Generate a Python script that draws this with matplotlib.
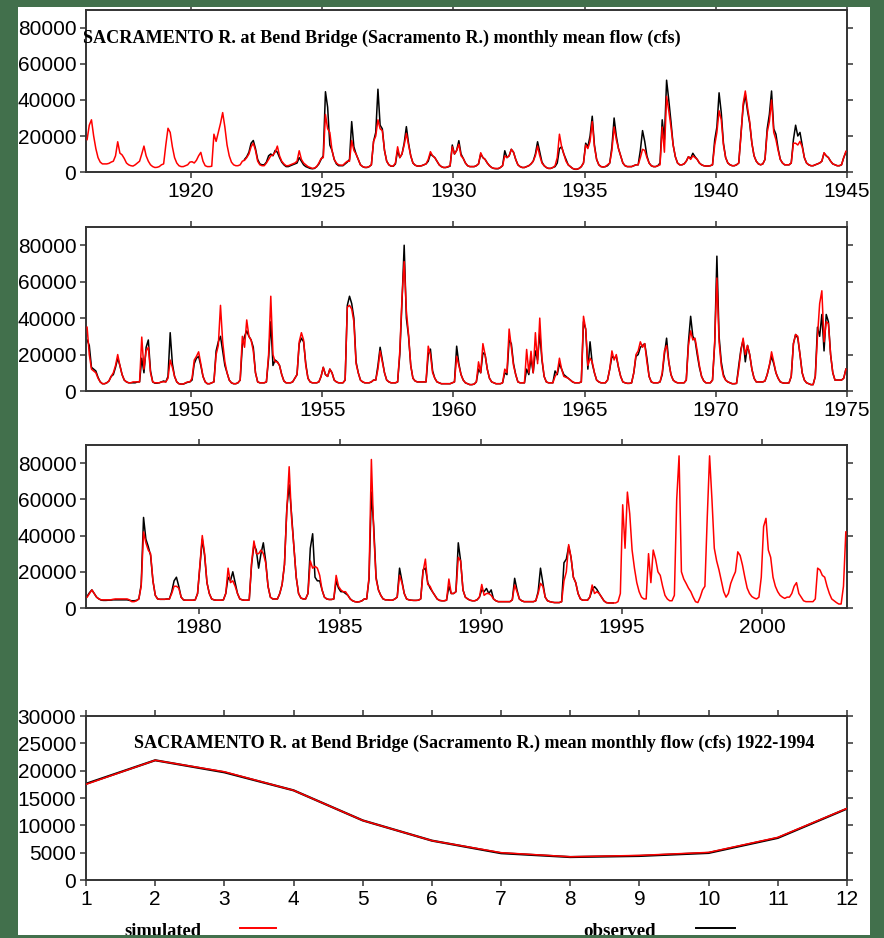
import numpy as np
import matplotlib
matplotlib.use("Agg")
import matplotlib.pyplot as plt
from matplotlib.patches import Rectangle
from matplotlib.lines import Line2D
from matplotlib.ticker import FuncFormatter, FixedLocator

# ---------------- data: monthly mean flow, thousand cfs (Jan..Dec per row) ----------------
sim_1916_1944 = [
    18, 26, 29, 20, 13, 8, 5.5, 4.5, 4.5, 4.5, 4.8, 5.5,
    6, 9, 16.8, 10.5, 9.5, 7.5, 5, 4, 3.5, 3.3, 4, 5,
    6, 10, 14.4, 9, 6, 4, 3, 2.5, 2.6, 3, 4, 4.5,
    15, 24.3, 22, 14, 8, 5, 3.5, 3, 3, 3.5, 4, 5.5,
    5.7, 5, 6.5, 9, 10.9, 6, 3.5, 3, 3, 3.2, 21, 17,
    22, 27, 33, 25, 15, 9, 5.5, 4, 3.5, 3.5, 4, 6,
    6.5, 8, 10, 14, 16, 12, 6, 4, 3.5, 3.5, 5, 7,
    9, 9.5, 11, 14.4, 9, 6, 4.5, 3.5, 3.5, 4, 4.5, 5,
    6, 11.8, 7, 5, 4, 3, 2.5, 2, 2.2, 3, 5, 7.5,
    8, 32, 24, 22, 12, 7, 5, 4, 3.8, 3.8, 5, 6,
    6, 17.5, 12, 10, 7, 4, 3, 2.6, 2.6, 3, 4, 17,
    20, 29, 24, 23, 12, 6, 4, 3.3, 3.3, 5, 14, 8,
    10, 15, 21.5, 15, 9, 5, 3.8, 3.3, 3.3, 3.5, 4, 4.5,
    7, 11.3, 9, 8, 6, 4, 3, 2.5, 2.5, 3, 3.5, 14,
    10, 12, 15.4, 9, 7.6, 5, 3.5, 3, 3, 3, 3.5, 4.5,
    10.7, 8, 7, 5, 3.5, 2.5, 2, 2, 2, 2.5, 3.5, 9,
    8, 9, 12.6, 11, 7, 4, 3, 2.5, 2.5, 3, 3.5, 4.5,
    6, 9, 14.4, 9, 5, 3.5, 2.5, 2, 2, 2.5, 3.5, 8,
    21, 14, 10, 6, 4, 3, 2, 1.6, 1.6, 2, 3, 5,
    15, 13, 17, 28, 14, 7, 4, 3, 2.8, 3, 4, 5,
    12, 25, 18, 13, 9, 5, 3.5, 3, 3, 3, 3.5, 4,
    4, 8, 12.6, 12, 8, 5, 3.5, 3, 3, 3.5, 4, 25,
    11, 42, 34, 25, 15, 8.5, 5, 4, 4, 4.5, 6, 8.5,
    7, 9, 8, 7, 5, 4, 3.5, 3.3, 3.3, 3.5, 4, 15,
    22, 34, 29, 15, 8, 5, 4, 3.5, 3.5, 4, 5, 20,
    38, 45, 36, 28, 16, 9, 6, 4.5, 4, 4.5, 7, 22,
    28, 40, 22, 18, 12, 7, 5, 4, 4, 4, 5, 16,
    16, 15, 17, 14, 8, 5, 4, 3.5, 3.5, 4, 4.5, 5,
    6, 10.7, 9, 8, 6, 4.5, 4, 3.5, 3.5, 4, 8, 11.5,
]
obs_1922_1944 = [
    7, 8.5, 11, 16, 17.5, 13, 7, 4.5, 4, 4, 5.5, 9,
    10, 9, 12, 11, 8, 5.5, 4, 3, 3, 3.5, 4, 4.5,
    5, 8, 6, 4, 3, 2.5, 2, 1.8, 2, 3, 4.5, 7,
    9, 44.6, 36, 15, 12, 7, 4.5, 3.5, 3.5, 3.5, 4.5, 5.5,
    7, 28, 14, 10, 7, 4, 3, 2.5, 2.5, 3, 4, 17,
    22, 46, 26, 24, 12, 6, 4, 3.2, 3.2, 4.5, 12, 8,
    10, 16, 25.2, 16, 9, 5, 3.8, 3.3, 3.3, 3.5, 4, 4.5,
    6, 10, 9, 8, 6, 4, 3, 2.5, 2.5, 2.8, 3.3, 15,
    10, 12, 17.4, 10, 7.6, 5, 3.5, 3, 3, 3, 3.5, 4.5,
    10, 8, 7, 5, 3.5, 2.5, 2, 1.8, 1.8, 2.5, 3.5, 11.8,
    8, 9, 12.6, 11, 7, 4, 3, 2.5, 2.5, 3, 3.5, 4.5,
    6, 10, 16.8, 11, 5.5, 3.5, 2.5, 2, 2, 2.5, 3, 5,
    13, 14, 10, 7, 4, 3, 2, 1.5, 1.5, 2, 3, 5,
    16, 14, 20, 31, 15, 7, 4, 3, 2.8, 3, 3.5, 5,
    14, 30, 20, 13, 9, 5, 3.5, 3, 3, 3, 3.5, 4,
    4, 12, 23, 17, 9, 5, 3.5, 3, 3, 3.5, 5, 29,
    18, 51, 40, 28, 15, 8.5, 5, 4, 4, 4.5, 6, 8.5,
    7.5, 10.4, 8.5, 7, 5, 4, 3.5, 3.3, 3.3, 3.5, 4, 17.8,
    25, 44, 33, 16, 8, 5, 4, 3.5, 3.5, 4, 5, 21,
    36, 43, 34, 27, 16, 9, 6, 4.5, 4, 4.5, 7, 24,
    32, 45, 24, 21, 13, 7, 5, 4, 4, 4, 5, 18,
    26, 20, 22, 15, 8, 5, 4, 3.5, 3.5, 4, 4.5, 5,
    6, 10.5, 9, 8, 6, 4.5, 4, 3.5, 3.5, 4, 8, 11,
]
sim_1946_1974 = [
    35, 20, 12, 11, 10, 7, 5, 4, 4, 4.5, 5.5, 8,
    10, 14, 20, 14, 9, 6, 5, 4.5, 4.5, 5, 5, 5,
    5, 29.6, 12, 22, 24, 10, 5, 4.5, 4.5, 4.5, 5, 5,
    5, 7, 17, 13, 8, 5, 4, 3.8, 3.8, 4.5, 5, 5,
    7, 17, 19, 21.5, 15, 8, 5, 4, 4, 4.5, 5, 20,
    25, 47, 27, 16, 10, 6, 4.5, 4, 4, 4.5, 6, 30,
    24, 39, 30, 28, 22, 10, 5, 4.5, 4.5, 4.5, 5, 20,
    52, 20, 16, 16, 14, 9, 5.5, 4.5, 4.5, 4.5, 5, 7,
    9, 27, 32, 28, 14, 7, 5, 4.5, 4.5, 4.5, 5, 8,
    13, 9, 8, 12, 10, 6, 5, 4.5, 4.5, 4.5, 6, 46,
    47, 45, 38, 15, 10, 6, 5, 4.5, 4.5, 4.5, 5, 6,
    6, 12, 22, 16, 10, 6, 5, 4.5, 4.5, 4.5, 5, 22,
    51, 71, 44, 31, 14, 7, 5.5, 5, 5, 5, 5, 5,
    24.6, 20, 10, 7, 5, 4.5, 4, 4, 4, 4, 4, 4.5,
    5, 19, 14, 9, 6, 4.5, 4, 3.5, 3.5, 3.8, 5, 16,
    10, 26, 20, 12, 7, 5, 4.5, 4, 4, 4, 4.5, 12,
    10, 34, 24, 14, 9, 5, 4.5, 4.5, 4.5, 22.8, 10, 21.8,
    10, 32, 15, 40, 18, 8, 5, 4.5, 4.5, 4.5, 8, 10,
    18, 12, 8, 7.5, 7, 6, 5, 4.5, 4.5, 4.5, 5, 41,
    34, 14, 18, 16, 10, 6, 5, 4.5, 4.5, 4.5, 6, 12,
    22, 17, 20, 13, 8, 5, 4.5, 4.2, 4.2, 4.5, 10, 20,
    22, 27, 24, 26, 16, 8, 5, 4.5, 4.5, 4.5, 5, 10,
    22, 25, 16, 9, 6, 5, 4.5, 4.5, 4.5, 4.5, 6, 25,
    33, 28, 29, 22, 14, 8, 5.5, 4.5, 4.5, 4.5, 6, 27,
    62, 27, 14, 8, 6, 5, 4.5, 4, 4, 4.2, 12, 22,
    29, 20, 25, 20, 12, 7, 5, 5, 5, 5, 5.5, 9,
    14, 21.5, 16, 10, 7, 5, 4.5, 4.3, 4.3, 4.5, 8, 26,
    31, 30, 20, 10, 6, 4.5, 4, 3.5, 3.5, 8, 30, 48,
    55, 27, 38, 37, 20, 10, 6, 6, 6, 6, 7, 12,
]
obs_1946_1974 = [
    28, 25, 13, 12, 11, 7.5, 5, 4, 4, 4.5, 5.5, 8,
    9, 13, 18, 14, 9, 6, 5, 4.5, 4.5, 4.5, 4.5, 5,
    5, 18, 10, 24, 28, 11, 5, 4.3, 4.3, 4.5, 5, 5.5,
    5, 8, 32, 15, 8, 5, 4, 3.8, 3.8, 4.3, 4.8, 5,
    6, 15, 18, 19, 14, 8, 5, 4, 4, 4.5, 5, 22,
    27, 30, 22, 14, 10, 6, 4.5, 4, 4, 4.5, 6, 25,
    30, 33, 30, 28, 24, 10, 5, 4.5, 4.5, 4.5, 5, 18,
    38, 14, 17, 16, 14, 9, 5.5, 4.5, 4.5, 4.5, 5, 7,
    9, 26, 29, 27, 15, 7, 5, 4.5, 4.5, 4.5, 5, 8,
    13, 9, 8, 12, 10, 6, 5, 4.5, 4.5, 4.5, 6, 47,
    52, 48, 40, 16, 10, 6, 5, 4.5, 4.5, 4.5, 5, 6,
    6, 14, 24, 17, 10, 6, 5, 4.5, 4.5, 4.5, 5, 20,
    49, 80, 40, 30, 14, 7, 5.5, 5, 5, 5, 5, 5,
    20, 23, 11, 7, 5, 4.5, 4, 4, 4, 4, 4, 4.5,
    5, 24.6, 15, 9, 6, 4.5, 4, 3.5, 3.5, 3.8, 5, 12,
    10, 21, 20, 12, 7, 5, 4.5, 4, 4, 4, 4.5, 10,
    9, 28, 26, 15, 9, 5, 4.5, 4.5, 4.5, 12, 9, 18,
    10, 22, 17, 32, 17, 8, 5, 4.5, 4.5, 4.5, 11, 9,
    15, 12, 9, 8, 7, 6, 5, 4.5, 4.5, 4.5, 5, 38,
    34, 12, 27, 15, 10, 6, 5, 4.5, 4.5, 4.5, 6, 12,
    19, 18, 19, 13, 8, 5, 4.5, 4.2, 4.2, 4.5, 10, 19,
    20, 24, 25, 26, 18, 8, 5, 4.5, 4.5, 4.5, 5, 9,
    20, 29, 16, 9, 6, 5, 4.5, 4.5, 4.5, 4.5, 6, 27,
    41, 30, 28, 20, 13, 8, 5.5, 4.5, 4.5, 4.5, 6, 26,
    74, 30, 16, 9, 6, 5, 4.5, 4, 4, 4.2, 14, 23,
    28, 16, 25, 20, 12, 7, 5, 5, 5, 5, 5.5, 9,
    14, 19, 15, 10, 7, 5, 4.5, 4.3, 4.3, 4.5, 8, 26,
    31, 29, 20, 10, 6, 4.5, 4, 3.5, 3.5, 8, 35, 30,
    42, 22, 42, 38, 20, 10, 6, 6, 6, 6, 7, 12,
]
sim_1976_2002 = [
    6, 8, 10, 8, 6, 5, 4.5, 4.5, 4.5, 4.5, 4.5, 4.8,
    5, 5, 5, 5, 5, 5, 4.5, 3.5, 3.5, 4, 5, 12,
    42, 36, 32, 30, 15, 7, 5, 4.8, 4.8, 4.8, 5, 5,
    8, 12, 12, 11, 6, 4.5, 4.3, 4.3, 4.3, 4.3, 4.5, 8,
    24, 40, 30, 14, 8, 5, 4.5, 4.3, 4.3, 4.3, 4.5, 8,
    22, 14, 15, 12, 8, 5, 4.5, 4.3, 4.3, 4.5, 25, 37,
    30, 30, 32, 30, 25, 12, 6, 5, 5, 5, 8, 13,
    24, 54, 78, 50, 34, 17, 8, 5.5, 5, 5, 8, 26,
    22, 23, 22, 18, 10, 6, 5, 4.7, 4.7, 5, 18, 12,
    10, 9, 9, 7, 5, 4, 3.5, 3.3, 3.5, 4, 5, 5,
    17, 82, 42, 16, 10, 7, 5, 4.5, 4.5, 4.3, 4.3, 5,
    6, 18, 14, 8, 5, 4.5, 4.3, 4.2, 4.2, 4.3, 5, 20,
    27, 13, 12, 9, 7, 5, 4.2, 4, 4, 4.3, 16, 8,
    8, 9, 28, 26, 10, 6, 5, 4.3, 4, 4, 4.5, 6,
    13, 7, 8, 8, 7, 5, 4, 3.5, 3.5, 3.5, 3.5, 3.5,
    3.5, 4.5, 12.7, 9, 5, 4, 3.5, 3.5, 3.5, 3.5, 3.5, 4,
    8, 13.6, 12, 6, 4, 3.5, 3.2, 3, 3, 3, 3.5, 15,
    20, 35, 28, 17, 14, 8, 5, 4.3, 4.3, 4.3, 6, 12.7,
    8, 9, 8, 6, 4, 3, 2.8, 2.8, 2.8, 2.8, 3.5, 8,
    57, 33, 64, 52, 32, 22, 14, 9, 6, 5, 5, 30,
    14, 32, 27, 20, 18, 12, 7, 5, 4, 4, 7, 60,
    84, 20, 16, 13.6, 11, 9, 6, 3.5, 3, 6, 10, 12,
    50, 84, 60, 33, 26, 21, 15, 9, 6, 8, 13.6, 17,
    20, 31, 29, 23.7, 17, 11, 8, 6.3, 5.5, 5, 6, 17,
    45, 49.5, 32, 28, 17, 12, 9, 7, 6, 5.3, 6, 6,
    8, 12, 14, 8, 6, 4, 3.5, 3.5, 3.5, 3.5, 5, 22,
    21, 18, 17, 12, 8, 5, 4, 3, 2.2, 2.2, 12, 42,
]
obs_1976_1994 = [
    6.5, 8.5, 10, 8, 6, 5, 4.3, 4.2, 4.2, 4.3, 4.3, 4.5,
    4.5, 4.5, 4.5, 4.5, 4.5, 4.5, 4.2, 4, 4, 4.2, 5, 13,
    50, 38, 34, 29, 15, 7, 5, 4.8, 4.8, 4.8, 5, 5,
    9, 15, 17, 12, 6, 4.5, 4.3, 4.3, 4.3, 4.3, 4.5, 8,
    23, 38, 29, 14, 8, 5, 4.5, 4.3, 4.3, 4.3, 4.5, 8,
    17, 15, 20, 14, 8, 5, 4.5, 4.3, 4.3, 4.5, 24, 35,
    32, 22, 30, 36, 26, 12, 6, 5, 5, 5, 8, 13,
    24, 55, 68, 52, 34, 17, 8, 5.5, 5, 5, 8, 33,
    41, 17, 15, 15, 10, 6, 5, 4.7, 4.7, 5, 15, 11,
    9, 9, 8, 7, 5, 4, 3.5, 3.3, 3.5, 4, 5, 5,
    16, 64, 45, 17, 10, 7, 5, 4.5, 4.5, 4.3, 4.3, 5,
    6, 22, 15, 8, 5, 4.5, 4.3, 4.2, 4.2, 4.3, 5, 21,
    22, 14, 11, 9, 7, 5, 4.2, 4, 4, 4.3, 12, 8,
    8, 9, 36, 26, 10, 6, 5, 4.3, 4, 4, 4.5, 6,
    10, 9, 10.8, 8, 10, 5, 4, 3.5, 3.5, 3.5, 3.5, 3.5,
    3.5, 4.5, 16.4, 10, 5, 4, 3.5, 3.5, 3.5, 3.5, 3.5, 4,
    9, 22, 14, 6, 4, 3.5, 3.2, 3, 3, 3, 3.5, 25,
    27, 34, 28, 17, 14, 8, 5, 4.3, 4.3, 4.3, 6, 10,
    11.8, 10.3, 8, 6, 4, 3, 2.8, 2.8, 2.8,
]

# mean monthly flow 1922-1994 (cfs)
months = [1, 2, 3, 4, 5, 6, 7, 8, 9, 10, 11, 12]
sim_mean = [17500, 21900, 19800, 16400, 10900, 7200, 5000, 4250, 4500, 5050, 7800, 13100]
obs_mean = [17600, 21900, 19700, 16400, 10900, 7200, 4900, 4200, 4400, 4950, 7700, 13050]

title_top = "SACRAMENTO R. at Bend Bridge (Sacramento R.) monthly mean flow (cfs)"
title_bottom = "SACRAMENTO R. at Bend Bridge (Sacramento R.) mean monthly flow (cfs) 1922-1994"
legend_labels = ["simulated", "observed"]

# ---------------- figure ----------------
W, H = 884, 938
fig = plt.figure(figsize=(W / 100, H / 100), dpi=100, facecolor="white")

TICKFONT = "Liberation Sans"
SERIF = "Liberation Serif"
SPINE = "#333333"


def ax_rect(left, top, right, bottom):
    return [left / W, (H - bottom) / H, (right - left) / W, (bottom - top) / H]


def style(ax):
    for s in ax.spines.values():
        s.set_color(SPINE)
        s.set_linewidth(1.4)
    ax.tick_params(direction="out", length=4, width=1.1, color=SPINE,
                   top=True, right=True, labeltop=False, labelright=False,
                   labelsize=15, pad=3)
    for lab in ax.get_xticklabels() + ax.get_yticklabels():
        lab.set_fontfamily(TICKFONT)
    ax.yaxis.set_major_formatter(FuncFormatter(lambda v, p: f"{int(round(v))}"))
    ax.xaxis.set_major_formatter(FuncFormatter(lambda v, p: f"{int(round(v))}"))


def series_x(start_year, n):
    return start_year + (np.arange(n) + 0.5) / 12.0


panels = [
    (ax_rect(86, 10, 847, 172), 1916, 1945, sim_1916_1944, 1916, obs_1922_1944, 1922),
    (ax_rect(86, 227, 847, 391), 1946, 1975, sim_1946_1974, 1946, obs_1946_1974, 1946),
    (ax_rect(86, 445, 847, 608), 1976, 2003, sim_1976_2002, 1976, obs_1976_1994, 1976),
]

for rect, x0, x1, sim, s0, obs, o0 in panels:
    ax = fig.add_axes(rect)
    sim_v = np.array(sim) * 1000.0
    obs_v = np.array(obs) * 1000.0
    ax.plot(series_x(o0, len(obs_v)), obs_v, color="black", lw=1.1, zorder=2)
    ax.plot(series_x(s0, len(sim_v)), sim_v, color="red", lw=1.1, zorder=3)
    ax.set_xlim(x0, x1)
    ax.set_ylim(0, 90000)
    ax.yaxis.set_major_locator(FixedLocator([0, 20000, 40000, 60000, 80000]))
    ax.xaxis.set_major_locator(FixedLocator(list(range(x0 - x0 % 5 + 5, x1 + 1, 5))))
    style(ax)

ax4 = fig.add_axes(ax_rect(86, 716, 847, 880))
ax4.plot(months, obs_mean, color="black", lw=1.6, zorder=2)
ax4.plot(months, sim_mean, color="red", lw=1.1, zorder=3)
ax4.set_xlim(1, 12)
ax4.set_ylim(0, 30000)
ax4.xaxis.set_major_locator(FixedLocator(months))
ax4.yaxis.set_major_locator(FixedLocator(list(range(0, 30001, 5000))))
style(ax4)

# titles
t1 = fig.text(83 / W, 1 - 38 / H, title_top, fontfamily=SERIF, fontweight="bold",
              fontsize=12, ha="left", va="center", zorder=5)
t4 = fig.text(134 / W, 1 - 743 / H, title_bottom, fontfamily=SERIF, fontweight="bold",
              fontsize=12, ha="left", va="center", zorder=5)
l1 = fig.text(124 / W, 1 - 931 / H, legend_labels[0], fontfamily=SERIF, fontweight="bold",
              fontsize=12, ha="left", va="center", zorder=5)
l2 = fig.text(583 / W, 1 - 931 / H, legend_labels[1], fontfamily=SERIF, fontweight="bold",
              fontsize=12, ha="left", va="center", zorder=5)

fig.canvas.draw()
r = fig.canvas.get_renderer()
for t, target in [(t1, 596), (t4, 679), (l1, 76), (l2, 72)]:
    w = t.get_window_extent(r).width
    t.set_fontsize(12 * target / w)

fig.add_artist(Line2D([240 / W, 276 / W], [1 - 928 / H] * 2, color="red", lw=1.4,
                      transform=fig.transFigure, zorder=5))
fig.add_artist(Line2D([696 / W, 735 / W], [1 - 928 / H] * 2, color="black", lw=1.4,
                      transform=fig.transFigure, zorder=5))

# dark green frame around the white page
GREEN = "#42704c"
for (x, y, w, h) in [(0, 0, 18, H), (870, 0, W - 870, H), (0, 0, W, 7), (0, 935, W, H - 935)]:
    fig.add_artist(Rectangle((x / W, 1 - (y + h) / H), w / W, h / H, transform=fig.transFigure,
                             facecolor=GREEN, edgecolor="none", zorder=100))

fig.savefig("out.png", dpi=100, facecolor="white")
